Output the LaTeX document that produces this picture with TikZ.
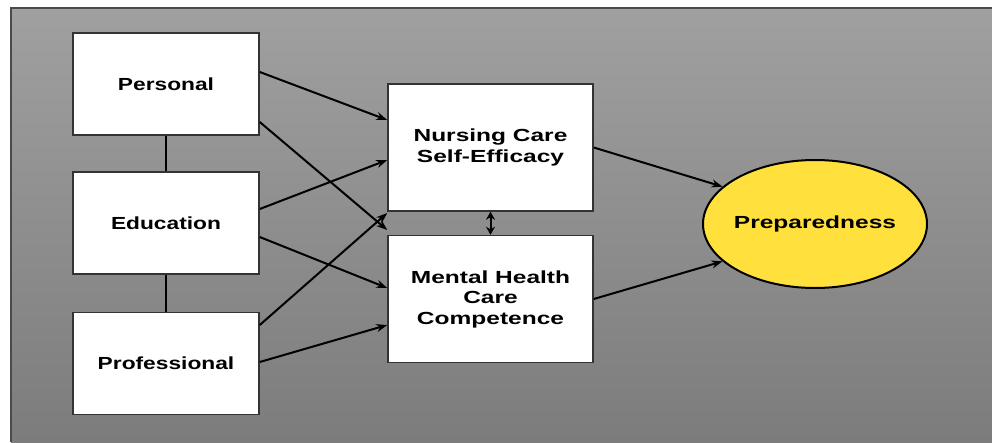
\documentclass[tikz,border=0pt]{standalone}
\usepackage{fontspec}
\usetikzlibrary{arrows.meta,shapes.geometric,calc}
\newfontfamily\factorfont[FakeStretch=1.30]{Liberation Sans}
\newfontfamily\widefont[FakeStretch=1.40]{Liberation Sans}
\definecolor{bgtop}{HTML}{A0A0A0}
\definecolor{bgbot}{HTML}{7C7C7C}
\definecolor{frame}{HTML}{4A4A4A}
\definecolor{boxline}{HTML}{333333}
\definecolor{prepfill}{HTML}{FFE03C}
\tikzset{
  lbl/.style={text=black, align=center},
  factor/.style={lbl, font=\factorfont\fontsize{17.5}{20.5}\selectfont\bfseries, draw=boxline, line width=1.5pt, fill=white, minimum width=186pt, minimum height=102pt, inner sep=0pt},
  mediator/.style={lbl, font=\widefont\fontsize{17.5}{20.5}\selectfont\bfseries, draw=boxline, line width=1.5pt, fill=white, minimum width=205pt, minimum height=127pt, inner sep=0pt},
  outcome/.style={lbl, font=\widefont\fontsize{17.5}{20.5}\selectfont\bfseries, ellipse, draw=black, line width=2pt, fill=prepfill, minimum width=224pt, minimum height=128pt, inner sep=0pt},
  path/.style={line width=2pt, draw=black, -{Stealth[length=11pt,width=8pt]}},
  link/.style={line width=2.2pt, draw=black},
  both/.style={line width=2pt, draw=black, {Stealth[length=8pt,width=9pt]}-{Stealth[length=8pt,width=9pt]}}
}
\begin{document}
\begin{tikzpicture}[x=1pt,y=-1pt]
  \useasboundingbox (0,0) rectangle (992,442);
  \fill[white] (0,0) rectangle (992,442);
  % panel with vertical gradient and a frame on the top and left
  \shade[top color=bgtop, bottom color=bgbot] (11,8) rectangle (992,442);
  \draw[frame, line width=2pt] (11,442) -- (11,8) -- (992,8);

  % background factors
  \node[factor] (pers) at (166,84) {Personal};
  \node[factor] (edu)  at (166,223) {Education};
  \node[factor] (prof) at (166,363.5) {Professional};

  % mediators
  \node[mediator] (nur) at (490.5,147.5) {Nursing Care\\Self-Efficacy};
  \node[mediator] (mh)  at (490.5,299) {Mental Health\\Care\\Competence};

  % outcome (zero-width label box so the ellipse keeps its own size)
  \node[outcome] (prep) at (815,224) {\makebox[0pt]{Preparedness}};

  % links between the factors
  \draw[link] (pers.south) -- (edu.north);
  \draw[link] (edu.south) -- (prof.north);

  % paths into the mediators
  \draw[path] ([yshift=12pt]pers.east) -- ([yshift=27.5pt]nur.west);
  \draw[path] ([yshift=-38pt]pers.east) -- ([yshift=69pt]mh.west);
  \draw[path] ([yshift=14pt]edu.east) -- ([yshift=-12.5pt]nur.west);
  \draw[path] ([yshift=-14pt]edu.east) -- ([yshift=11pt]mh.west);
  \draw[path] ([yshift=38.5pt]prof.east) -- ([yshift=-65.5pt]nur.west);
  \draw[path] ([yshift=1.5pt]prof.east) -- ([yshift=-26pt]mh.west);

  % mediators to outcome
  \draw[path] (nur.east) -- (prep.158);
  \draw[path] (mh.east) -- (prep.202);

  % correlation between mediators
  \draw[both] (nur.south) -- (mh.north);
\end{tikzpicture}
\end{document}
